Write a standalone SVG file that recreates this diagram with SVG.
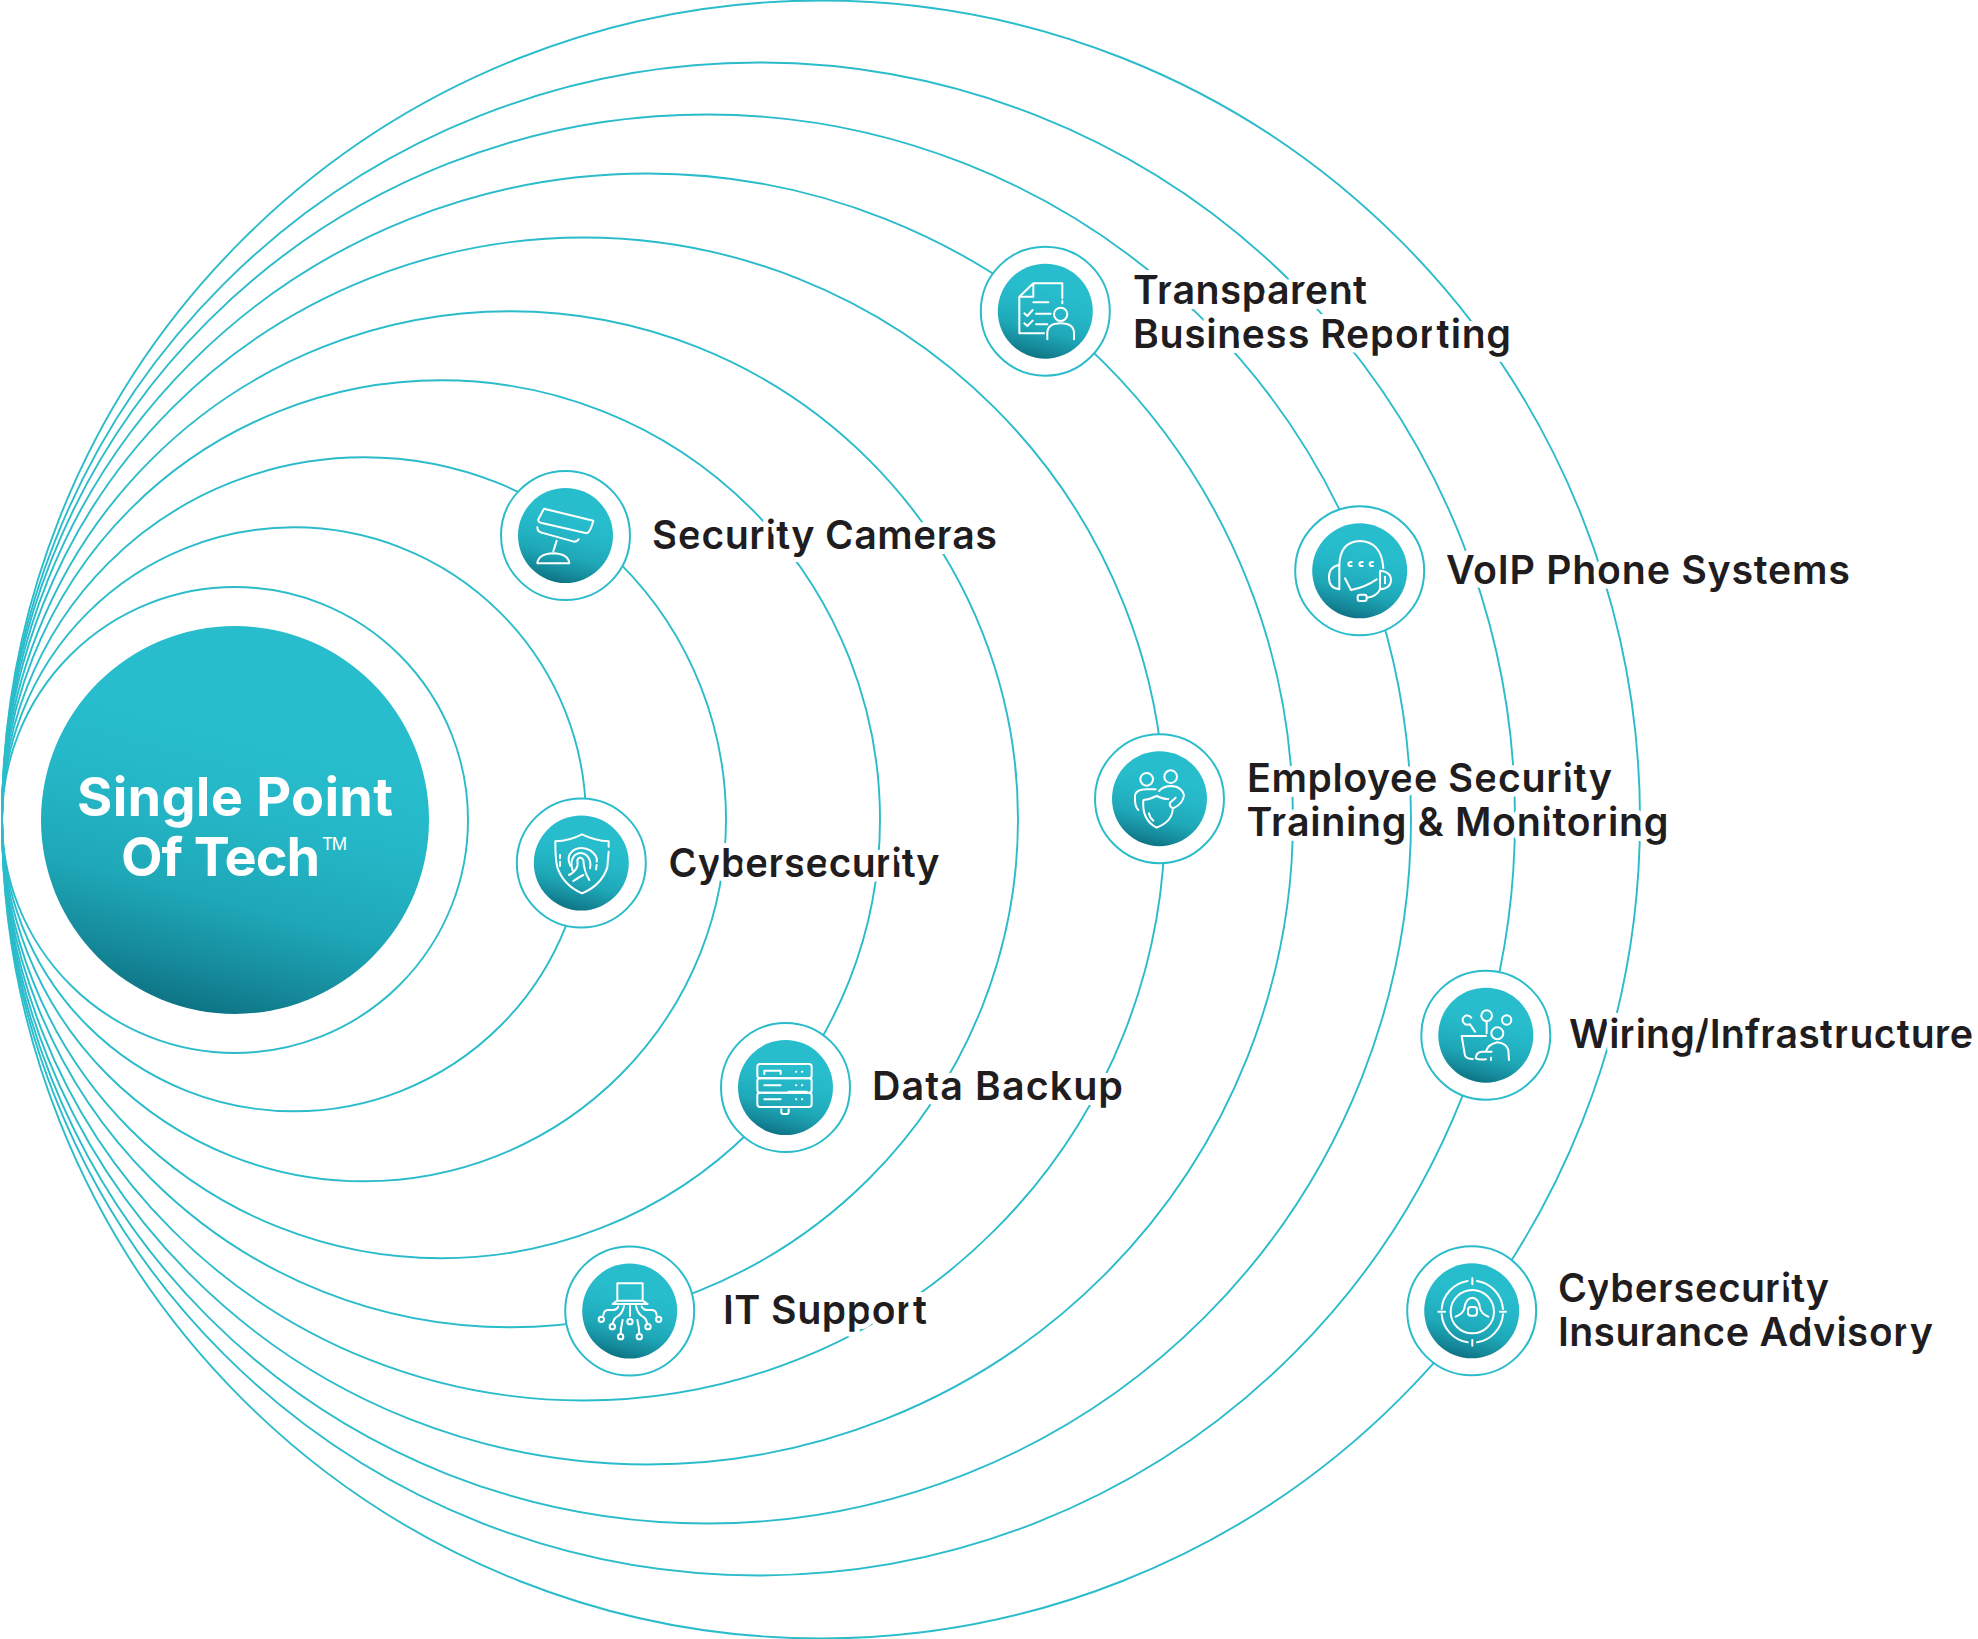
<svg xmlns="http://www.w3.org/2000/svg" width="1978" height="1639" viewBox="0 0 1978 1639">
<style>
.ring{fill:none;stroke:#2bbccb;stroke-width:1.9}
.halo{fill:#fff;stroke:#2bbccb;stroke-width:2}
.disc{fill:url(#g)}
.ic{fill:none;stroke:#fff;stroke-width:6;stroke-linecap:round;stroke-linejoin:round}
.lbl{font-family:"Inter","Liberation Sans",sans-serif;font-weight:600;font-size:39.5px;fill:#1f1d20;paint-order:stroke;stroke:#fff;stroke-width:10px;stroke-linejoin:round}
.hero{font-family:"Inter","Liberation Sans",sans-serif;font-weight:700;font-size:54px;fill:#fff}
</style>
<defs>
<linearGradient id="g" x1="0.6" y1="0.3" x2="0.42" y2="1">
<stop offset="0" stop-color="#27bdcd"/><stop offset="0.3" stop-color="#24b6c6"/><stop offset="0.6" stop-color="#1ea7b7"/><stop offset="0.85" stop-color="#15899a"/><stop offset="1" stop-color="#0d7383"/>
</linearGradient>
</defs>
<rect width="1978" height="1639" fill="#fff"/>
<g id="connectors">
<circle class="ring" cx="235" cy="820" r="233"/>
<circle class="ring" cx="294" cy="819.3" r="292"/>
<circle class="ring" cx="364" cy="819.3" r="362"/>
<circle class="ring" cx="441" cy="819.3" r="439"/>
<circle class="ring" cx="510" cy="819.3" r="508"/>
<circle class="ring" cx="583.5" cy="819" r="581.5"/>
<circle class="ring" cx="647.5" cy="819" r="645.5"/>
<circle class="ring" cx="706.5" cy="819" r="704.5"/>
<circle class="ring" cx="758.5" cy="819" r="756.5"/>
<circle class="ring" cx="821" cy="819.5" r="819"/>
</g>
<g id="hub">
<circle class="disc" cx="235" cy="820" r="194"/>
<text class="hero" x="77" y="816" textLength="316">Single Point</text>
<text class="hero" x="121" y="876" textLength="199">Of Tech</text>
<text x="322" y="850" font-family="Inter,'Liberation Sans',sans-serif" font-size="17" textLength="25" fill="#fff">TM</text>
</g>
<g id="node-cameras">
<circle class="halo" cx="565.5" cy="535.5" r="64.5"/><circle class="disc" cx="565.5" cy="535.5" r="47.5"/>
<g class="ic" transform="translate(480 450) scale(.3333)">
<path d="M192 176L340 212Q332 245 320 250L182 218Q172 214 176 206Z"/>
<path d="M172 232Q172 245 185 248L282 275Q292 275 296 268"/>
<path d="M230 272L220 304"/>
<path d="M172 340Q175 312 220 310Q265 312 268 340Z"/>
</g>
<text class="lbl" x="652" y="548.5" textLength="345">Security Cameras</text>
</g>
<g id="node-cybersecurity">
<circle class="halo" cx="581.3" cy="863" r="64.5"/><circle class="disc" cx="581.3" cy="863" r="47.5"/>
<g class="ic" transform="translate(500 780) scale(.3333)">
<path d="M326 200V184Q285 182 246 163Q210 182 166 184Q166 240 172 262Q190 315 246 340Q305 315 322 262L326 215"/>
<path d="M180 225V235M180 245V258M290 255L288 268"/>
<path d="M212 258Q195 225 225 208Q250 198 272 212Q295 230 290 245"/>
<path d="M218 272Q208 240 225 225Q245 212 262 228Q275 245 270 265"/>
<path d="M207 285Q238 270 232 240Q240 225 250 240Q252 275 268 300"/>
<path d="M220 303Q240 290 250 285"/>
</g>
<text class="lbl" x="668.6" y="876.5" textLength="271">Cybersecurity</text>
</g>
<g id="node-backup">
<circle class="halo" cx="785.5" cy="1087.5" r="64.5"/><circle class="disc" cx="785.5" cy="1087.5" r="47.5"/>
<g class="ic" transform="translate(710 1010) scale(.3333)">
<rect x="142" y="162" width="163" height="43" rx="8"/><rect x="142" y="205" width="163" height="43" rx="8"/><rect x="142" y="248" width="163" height="43" rx="8"/>
<path d="M163 192V182H212V192M258 185h1M276 185h1M163 226H212M258 226h1M276 226h1M235 245H290M163 268H212M258 268h1M276 268h1"/>
<path d="M214 298V306Q214 312 220 312H230Q236 312 236 305V298"/>
</g>
<text class="lbl" x="872" y="1100" textLength="251">Data Backup</text>
</g>
<g id="node-it">
<circle class="halo" cx="629.7" cy="1311" r="64.5"/><circle class="disc" cx="629.7" cy="1311" r="47.5"/>
<g class="ic" transform="translate(550 1240) scale(.3333)">
<path d="M202 182V130H278V182M188 192L202 182H278L293 192Z"/>
<path d="M240 197V228M205 200Q200 210 190 210L172 210Q162 212 160 225M222 198Q218 222 198 232Q190 238 188 250M218 240Q212 265 212 282M275 200Q280 210 290 210L308 210Q318 212 320 225M258 198Q262 222 282 232Q290 238 292 250M262 240Q268 265 268 282"/>
<circle cx="240" cy="245" r="8"/><circle cx="154" cy="238" r="8"/><circle cx="187" cy="260" r="8"/><circle cx="212" cy="290" r="8"/><circle cx="326" cy="238" r="8"/><circle cx="294" cy="260" r="8"/><circle cx="268" cy="290" r="8"/>
</g>
<text class="lbl" x="723" y="1324" textLength="204">IT Support</text>
</g>
<g id="node-reporting">
<circle class="halo" cx="1045.3" cy="311.2" r="64.5"/><circle class="disc" cx="1045.3" cy="311.2" r="47.5"/>
<g class="ic" transform="translate(970 235) scale(.3333)">
<path d="M222 295H148V185L190 145H277V190M277 198V205M190 145V185H148"/>
<path d="M190 202H235M163 235L172 243L188 225M198 236H242M163 265L172 273L188 257M198 268H232"/>
<circle cx="272" cy="238" r="20"/><path d="M232 313V295Q232 265 272 265Q312 265 312 295V313"/>
</g>
<text class="lbl" x="1133" y="304" textLength="234">Transparent</text><text class="lbl" x="1133" y="347.5" textLength="378">Business Reporting</text>
</g>
<g id="node-voip">
<circle class="halo" cx="1359.7" cy="570.8" r="64.5"/><circle class="disc" cx="1359.7" cy="570.8" r="47.5"/>
<g class="ic" transform="translate(1285 500) scale(.3333)">
<path d="M163 195Q165 125 225 123Q290 125 295 205"/>
<path d="M163 195Q132 200 132 232Q132 265 163 268Z"/>
<path d="M285 212Q318 215 318 240Q318 265 285 268ZM300 230V250"/>
<path d="M180 235L198 270Q240 262 275 238"/>
<path d="M285 268Q275 290 245 293"/><rect x="218" y="284" width="27" height="19" rx="7"/>
<path d="M200 186Q190 186 190 193Q191 199 200 198M233 186Q223 186 223 193Q224 199 233 198M264 186Q254 186 254 193Q255 199 264 198"/>
</g>
<text class="lbl" x="1446" y="584" textLength="404">VoIP Phone Systems</text>
</g>
<g id="node-training">
<circle class="halo" cx="1159.5" cy="798.7" r="64.5"/><circle class="disc" cx="1159.5" cy="798.7" r="47.5"/>
<g class="ic" transform="translate(1085 730) scale(.3333)">
<circle cx="185" cy="148" r="19"/><circle cx="257" cy="140" r="19"/>
<path d="M160 240Q148 230 150 195Q155 178 185 178L212 178"/>
<path d="M222 183Q235 168 260 168Q290 170 297 195Q295 220 265 235Q252 230 255 218L272 203"/>
<path d="M250 207Q235 208 215 198Q195 208 175 210Q170 270 215 293Q260 275 263 240"/>
<path d="M192 250Q195 265 205 272"/>
</g>
<text class="lbl" x="1247" y="792" textLength="365">Employee Security</text><text class="lbl" x="1246.5" y="836" textLength="422">Training &amp; Monitoring</text>
</g>
<g id="node-wiring">
<circle class="halo" cx="1485.8" cy="1035.2" r="64.5"/><circle class="disc" cx="1485.8" cy="1035.2" r="47.5"/>
<g class="ic" transform="translate(1410 965) scale(.3333)">
<path d="M184 158A14 14 0 1 0 170 179L180 178L195 200"/><circle cx="230" cy="152" r="16"/><circle cx="290" cy="165" r="14"/><circle cx="262" cy="205" r="18"/>
<path d="M230 168V205M155 213H228M155 213L165 272Q170 282 188 282"/>
<path d="M228 258Q235 238 262 232Q290 235 295 255L297 285"/>
<path d="M245 260H215Q198 262 197 280Q205 285 228 283M243 278V285"/>
</g>
<text class="lbl" x="1569" y="1048" textLength="404">Wiring/Infrastructure</text>
</g>
<g id="node-insurance">
<circle class="halo" cx="1471.7" cy="1310.8" r="64.5"/><circle class="disc" cx="1471.7" cy="1310.8" r="47.5"/>
<g class="ic" transform="translate(1395 1245) scale(.3333)">
<path d="M232 100V118M232 285V302M130 200H150M315 200H333"/>
<path d="M218 108A93 93 0 0 0 140 192M246 108A93 93 0 0 1 324 192M140 208A93 93 0 0 0 218 292M324 208A93 93 0 0 1 246 292"/>
<circle cx="232" cy="200" r="65"/>
<rect x="219" y="186" width="27" height="26" rx="9"/>
<path d="M182 215Q205 205 208 190Q212 160 232 158Q252 160 255 190Q258 205 280 215"/>
</g>
<text class="lbl" x="1558" y="1302" textLength="271">Cybersecurity</text><text class="lbl" x="1558" y="1346" textLength="375">Insurance Advisory</text>
</g>
</svg>
